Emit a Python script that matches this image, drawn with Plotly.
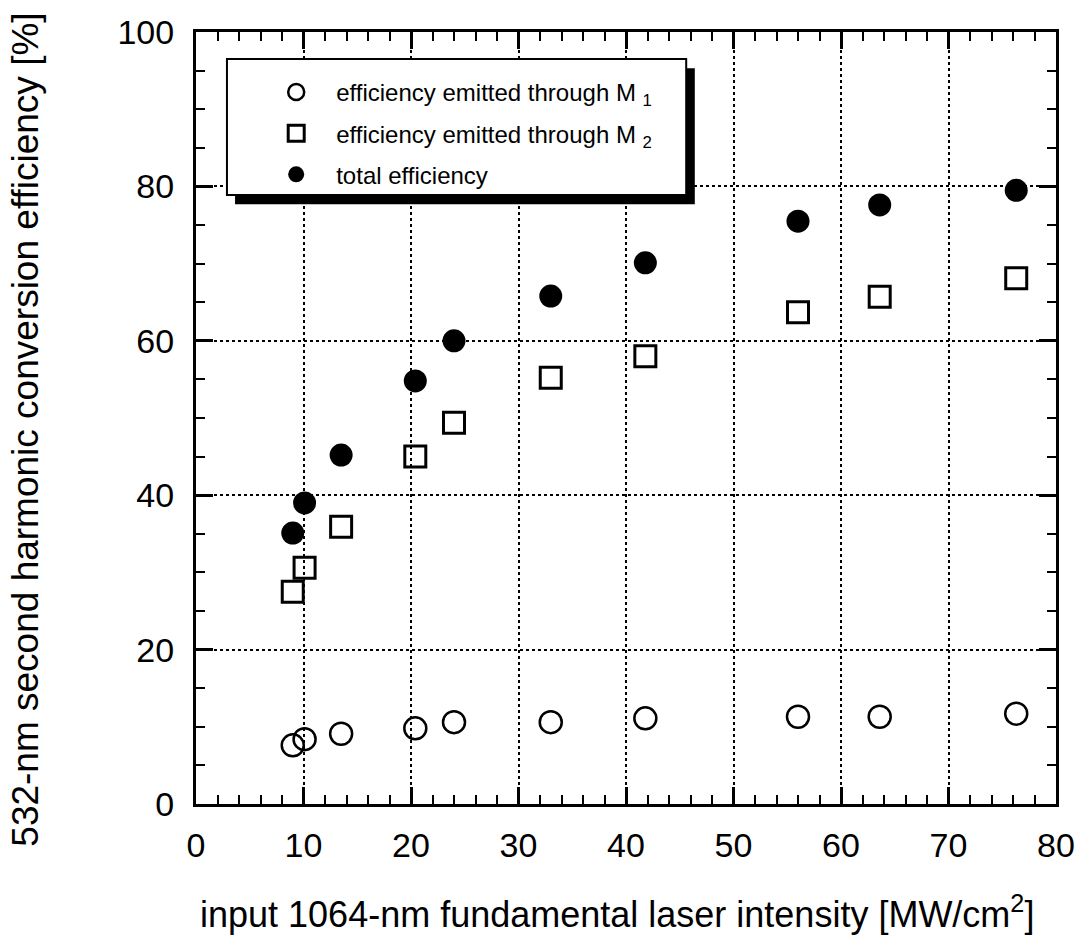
import plotly.graph_objects as go

# ---- data ----
intensity = [9.0, 10.1, 13.5, 20.4, 24.0, 33.0, 41.8, 56.0, 63.6, 76.3]
eff_m1 = [7.6, 8.4, 9.1, 9.8, 10.6, 10.6, 11.1, 11.3, 11.3, 11.7]
eff_m2 = [27.5, 30.6, 35.9, 45.0, 49.4, 55.2, 58.0, 63.7, 65.7, 68.1]
eff_total = [35.1, 39.0, 45.2, 54.8, 60.0, 65.8, 70.1, 75.5, 77.6, 79.5]

x_ticks = [0, 10, 20, 30, 40, 50, 60, 70, 80]
y_ticks = [0, 20, 40, 60, 80, 100]

x_title = "input 1064-nm fundamental laser intensity [MW/cm<sup>2</sup>]"
y_title = "532-nm second harmonic conversion efficiency [%]"

FONT = "Liberation Sans, Arial, Helvetica, sans-serif"

fig = go.Figure()
fig.add_trace(go.Scatter(
    x=intensity, y=eff_m1, mode="markers",
    name="efficiency emitted through M <sub>1</sub>",
    marker=dict(symbol="circle-open", size=22, color="black", line=dict(width=2.5, color="black")),
    legendgroup="a"))
fig.add_trace(go.Scatter(
    x=intensity, y=eff_m2, mode="markers",
    name="efficiency emitted through M <sub>2</sub>",
    marker=dict(symbol="square-open", size=21, color="black", line=dict(width=3, color="black")),
    legendgroup="b"))
fig.add_trace(go.Scatter(
    x=intensity, y=eff_total, mode="markers",
    name="total efficiency",
    marker=dict(symbol="circle", size=23, color="black"),
    legendgroup="c"))

axis_common = dict(
    ticks="inside", tickwidth=2.5, tickcolor="black",
    mirror="allticks", showline=True, linewidth=3, linecolor="black",
    showgrid=True, gridcolor="black", griddash="dot", gridwidth=2,
    zeroline=False, automargin=False,
    tickfont=dict(family=FONT, size=34, color="black"),
)

fig.update_xaxes(
    range=[0, 80], tickvals=x_ticks, ticklen=17,
    minor=dict(dtick=2, ticks="inside", ticklen=9, tickwidth=2, tickcolor="black", showgrid=False),
    ticklabelstandoff=9,
    **axis_common)
fig.update_yaxes(
    range=[0, 100], tickvals=y_ticks, ticklen=17,
    minor=dict(dtick=5, ticks="inside", ticklen=9, tickwidth=2, tickcolor="black", showgrid=False),
    ticklabelstandoff=12,
    **axis_common)

# axis titles as annotations for exact placement
fig.add_annotation(text=x_title, xref="paper", yref="paper", x=0.489, y=-0.140,
                   xanchor="center", yanchor="middle", showarrow=False,
                   font=dict(family=FONT, size=36, color="black"))
fig.add_annotation(text=y_title, xref="paper", yref="paper", x=-0.198, y=0.4845,
                   xanchor="center", yanchor="middle", showarrow=False, textangle=-90,
                   font=dict(family=FONT, size=37, color="black"))

# legend box with drop shadow
fig.add_shape(type="rect", xref="paper", yref="paper",
              x0=0.0454, x1=0.580, y0=0.777, y1=0.953,
              fillcolor="black", line=dict(width=0), layer="above")
fig.add_shape(type="rect", xref="paper", yref="paper",
              x0=0.036, x1=0.570, y0=0.789, y1=0.965,
              fillcolor="white", line=dict(width=2, color="black"), layer="above")

fig.update_layout(
    width=1081, height=941,
    margin=dict(l=196, r=25, t=32, b=137),
    paper_bgcolor="white", plot_bgcolor="white",
    showlegend=True,
    legend=dict(x=0.07, y=0.951, xanchor="left", yanchor="top",
                bgcolor="rgba(0,0,0,0)", borderwidth=0,
                font=dict(family=FONT, size=24, color="black"),
                traceorder="grouped", tracegroupgap=7, itemwidth=70),
)

fig.write_html("out.html", config={"displayModeBar": False},
               post_script="document.body.style.margin='0';")
